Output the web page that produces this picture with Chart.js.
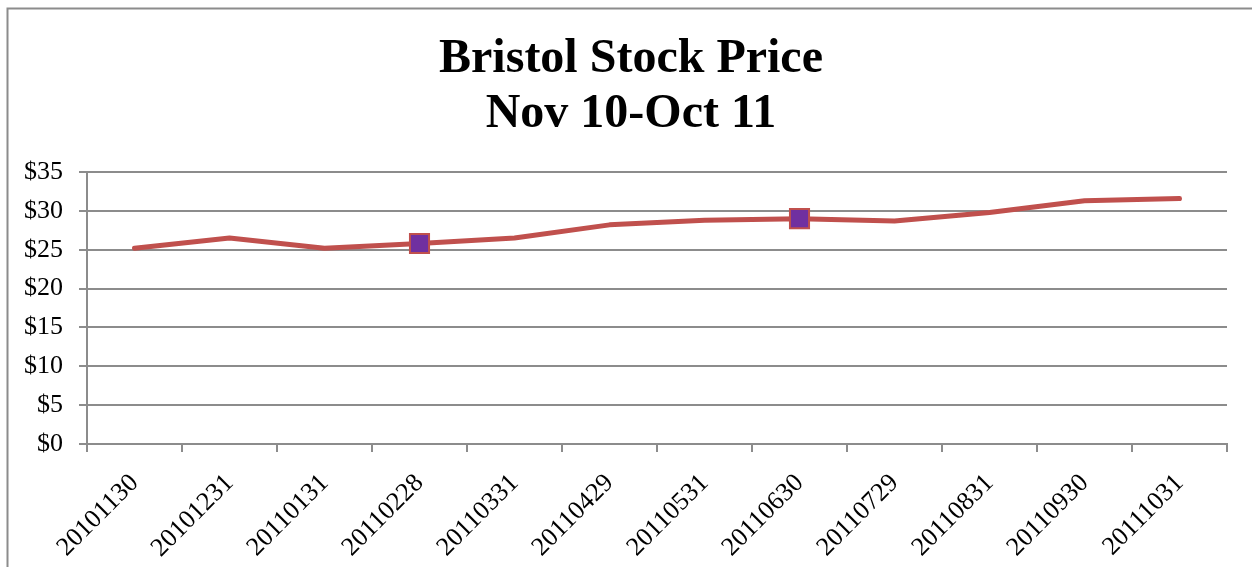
<!DOCTYPE html>
<html>
<head>
<meta charset="utf-8">
<script src="https://cdn.jsdelivr.net/npm/chart.js@4/dist/chart.umd.min.js"></script>
<style>
html,body{margin:0;padding:0;background:#fff;}
#wrap{position:relative;width:1252px;height:567px;}
</style>
</head>
<body>
<div id="wrap"><canvas id="c" width="1252" height="567"></canvas></div>
<script>
const categories = ['20101130','20101231','20110131','20110228','20110331','20110429','20110531','20110630','20110729','20110831','20110930','20111031'];
const prices = [25.2, 26.5, 25.2, 25.8, 26.5, 28.2, 28.8, 29.0, 28.7, 29.8, 31.3, 31.6];
const highlighted = ['20110228','20110630'];
const yTicks = [0, 5, 10, 15, 20, 25, 30, 35];

const frame = {
  id: 'frame',
  beforeDraw(chart) {
    const ctx = chart.ctx;
    ctx.save();
    ctx.fillStyle = '#fff';
    ctx.fillRect(0, 0, chart.width, chart.height);
    ctx.strokeStyle = '#8c8c8c';
    ctx.lineWidth = 2;
    ctx.beginPath();
    ctx.moveTo(7.5, chart.height + 5);
    ctx.lineTo(7.5, 8.5);
    ctx.lineTo(chart.width + 5, 8.5);
    ctx.stroke();
    ctx.restore();
  }
};

new Chart(document.getElementById('c'), {
  type: 'line',
  data: {
    labels: categories,
    datasets: [{
      data: prices,
      yAxisID: 'y',
      borderColor: '#c0504d',
      borderWidth: 5,
      borderCapStyle: 'round',
      borderJoinStyle: 'round',
      tension: 0,
      pointStyle: 'rect',
      pointRadius: c => highlighted.includes(categories[c.dataIndex]) ? 13.5 : 0,
      pointHoverRadius: c => highlighted.includes(categories[c.dataIndex]) ? 13.5 : 0,
      pointBackgroundColor: '#7030a0',
      pointBorderColor: '#c0504d',
      pointBorderWidth: 2
    }]
  },
  options: {
    responsive: false,
    animation: false,
    devicePixelRatio: 1,
    layout: { padding: { left: 10, right: 0, top: 0, bottom: 0 } },
    plugins: {
      legend: { display: false },
      tooltip: { enabled: false },
      title: {
        display: true,
        text: ['Bristol Stock Price', 'Nov 10-Oct 11'],
        color: '#000',
        font: { family: 'Liberation Serif', size: 48, weight: 'bold', lineHeight: 1.146 },
        padding: { top: 32, bottom: 30 }
      }
    },
    scales: {
      x: {
        offset: true,
        afterFit: s => { s.height = 123; },
        grid: { display: true, drawOnChartArea: false, drawTicks: true, tickLength: 8, color: '#8c8c8c', lineWidth: 2, offset: true },
        border: { display: true, color: '#8c8c8c', width: 2 },
        ticks: {
          color: '#000',
          font: { family: 'Liberation Serif', size: 26 },
          minRotation: 45, maxRotation: 45, autoSkip: false, padding: 16
        }
      },
      y: {
        position: 'left',
        min: 0, max: 35,
        afterFit: s => { s.width = 77; },
        afterBuildTicks: s => { s.ticks = yTicks.map(v => ({ value: v })); },
        grid: { color: '#8c8c8c', lineWidth: 2, tickLength: 8, drawTicks: true },
        border: { display: true, color: '#8c8c8c', width: 2 },
        ticks: {
          color: '#000',
          font: { family: 'Liberation Serif', size: 26 },
          padding: 16,
          callback: v => '$' + v
        }
      },
      yRight: {
        position: 'right',
        display: true,
        afterFit: s => { s.width = 25; },
        grid: { display: false, drawTicks: false },
        border: { display: false },
        ticks: { display: false }
      }
    }
  },
  plugins: [frame]
});
</script>
</body>
</html>
